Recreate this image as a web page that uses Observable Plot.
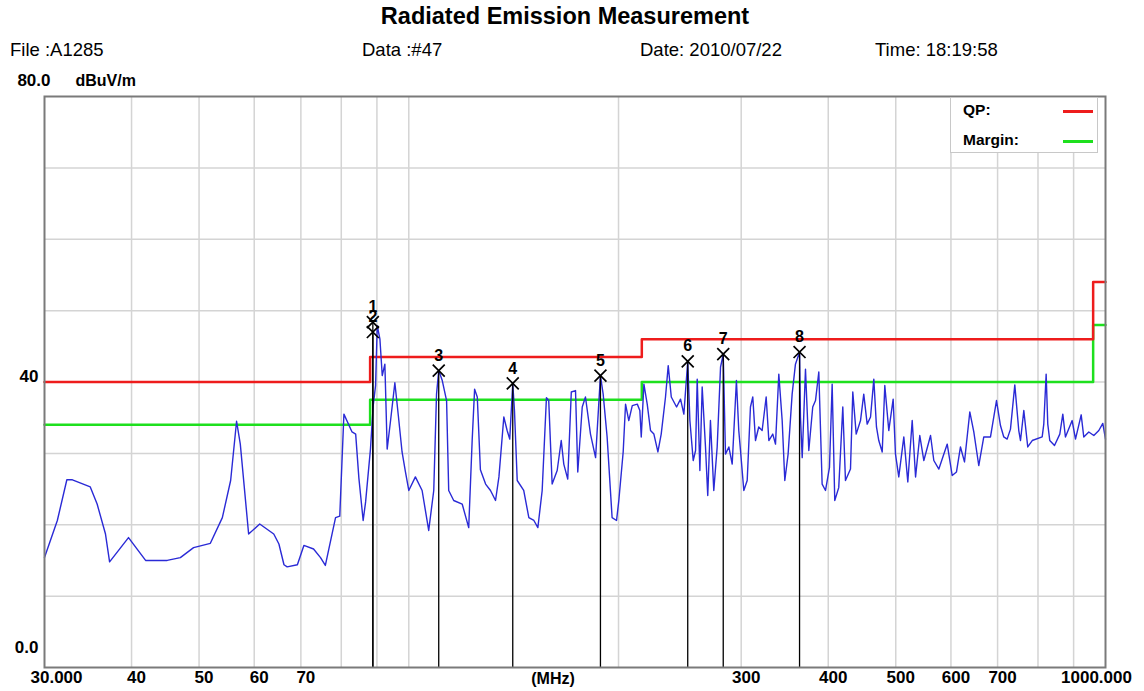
<!DOCTYPE html>
<html><head><meta charset="utf-8">
<script src="https://cdn.jsdelivr.net/npm/d3@7"></script>
<script src="https://cdn.jsdelivr.net/npm/@observablehq/plot@0.6"></script>
<style>
body{margin:0;background:#fff;font-family:"Liberation Sans",Arial,sans-serif;}
#wrap{position:relative;width:1144px;height:691px;overflow:hidden;}
#chart{position:absolute;left:0;top:0;}
.t{position:absolute;white-space:nowrap;color:#000;z-index:2;}
.h{font-size:18.5px;top:39px;}
#legend{position:absolute;left:950px;top:97px;width:146px;height:54px;background:#fff;border:1px solid #c8c8c8;z-index:2;font-weight:bold;font-size:15.5px;}
#legend .row{position:absolute;left:12px;}
#legend .sw{position:absolute;left:112px;width:30px;height:3px;}
</style></head>
<body><div id="wrap">
<div class="t" style="left:0;width:1130px;text-align:center;top:3px;font-weight:bold;font-size:23.5px">Radiated Emission Measurement</div>
<div class="t h" style="left:10px">File :A1285</div>
<div class="t h" style="left:362px">Data :#47</div>
<div class="t h" style="left:640px">Date: 2010/07/22</div>
<div class="t h" style="left:875px">Time: 18:19:58</div>
<div id="legend">
  <div class="row" style="top:3px">QP:</div><div class="sw" style="top:12px;background:#ee1c1c"></div>
  <div class="row" style="top:33px">Margin:</div><div class="sw" style="top:42px;background:#1ee01e"></div>
</div>
<div id="chart"></div>
</div>
<script>
// Measured trace (MHz, dBuV/m)
const traceFreq = [30.0,31.3,32.3,32.9,34.9,35.7,36.7,37.2,39.6,41.9,45.0,47.0,49.1,51.9,54.0,55.5,56.6,57.3,58.9,61.1,64.0,65.1,66.2,66.9,69.2,70.7,73.0,74.7,75.9,78.5,79.6,80.7,82.9,83.9,84.8,86.0,86.7,88.1,88.9,89.6,90.1,90.9,91.6,92.4,93.1,94.1,95.5,96.6,97.8,98.9,100.0,102.2,104.5,106.8,108.6,109.6,110.4,111.7,113.3,114.1,116.0,119.3,121.9,123.3,124.3,125.4,126.7,128.9,131.0,133.2,134.7,136.9,138.4,139.6,141.0,141.8,143.1,146.2,148.7,151.2,153.2,155.4,157.6,158.8,160.6,163.3,165.5,166.9,169.1,171.1,173.5,174.8,177.4,179.3,182.3,185.4,188.4,190.1,192.6,195.8,198.7,200.2,203.1,204.7,206.9,209.3,212.8,214.6,215.6,217.5,219.9,222.3,224.8,227.8,230.3,233.6,235.7,238.1,242.3,245.5,248.2,251.4,253.2,256.0,258.0,259.4,261.7,263.7,266.6,268.6,271.0,274.0,277.1,280.2,282.7,284.8,288.0,291.2,295.3,297.6,299.3,302.6,306.0,309.3,311.7,314.5,317.9,321.5,325.8,328.7,333.0,336.0,339.7,343.5,346.5,350.3,355.0,358.9,363.8,364.9,367.0,371.0,375.1,380.0,383.5,387.7,392.0,396.4,401.6,405.2,408.7,414.1,419.7,423.4,430.5,433.8,438.7,445.0,449.8,454.9,460.0,465.0,469.1,472.7,478.1,482.2,488.6,495.7,499.5,505.0,513.5,520.3,527.9,533.8,541.3,548.6,560.9,567.0,576.5,592.7,602.5,611.1,619.2,627.5,638.6,647.1,657.8,668.8,683.8,697.5,706.7,714.5,722.5,730.5,741.0,750.8,755.1,763.4,773.4,784.9,811.2,815.5,821.9,826.3,831.8,844.9,859.8,868.4,876.0,895.6,905.6,922.8,930.7,946.3,962.1,978.2,991.1,1000];
const traceLevel = [15.4,20.6,26.3,26.3,25.3,22.9,18.7,14.8,18.2,15.0,15.0,15.4,16.8,17.4,21.0,26.2,34.5,31.3,18.7,20.1,18.7,17.3,14.4,14.1,14.4,17.1,16.6,15.4,14.3,21.0,21.2,35.5,33.0,32.7,26.5,20.6,23.2,30.6,36.7,39.5,47.9,46.0,40.9,42.5,30.6,34.4,39.9,35.3,30.2,27.4,24.8,26.7,24.8,19.2,24.8,38.3,41.6,40.2,37.4,24.8,23.4,22.9,19.6,31.8,39.0,37.9,27.7,25.7,24.8,23.4,26.7,35.1,33.2,32.0,39.8,36.0,26.2,24.8,21.0,20.6,19.6,24.8,37.8,37.4,25.7,27.6,31.8,28.5,26.4,38.6,38.8,27.4,36.5,37.9,32.7,29.4,40.9,38.3,32.3,21.0,20.6,23.4,30.2,36.9,34.6,36.7,36.9,36.0,32.3,39.7,36.9,33.2,32.7,30.2,32.7,37.9,42.3,37.9,36.5,37.6,35.5,42.9,34.6,29.0,30.4,40.4,27.6,39.3,30.9,24.1,34.6,24.8,30.9,42.1,43.9,29.9,30.9,28.5,40.2,33.2,30.4,24.8,26.2,36.5,37.9,31.8,33.7,33.2,37.9,31.8,32.7,31.3,41.1,34.6,26.2,29.9,38.3,42.5,44.2,35.1,29.4,41.8,30.4,36.5,37.4,41.4,25.7,24.8,28.0,39.7,23.4,25.2,36.5,26.2,27.8,38.6,32.7,34.6,38.3,34.1,35.1,40.4,33.7,31.8,30.2,39.5,33.2,37.6,29.9,26.7,32.3,26.0,34.6,26.7,32.5,29.0,32.5,29.0,27.8,31.3,26.9,27.4,30.9,28.8,35.8,33.0,28.3,32.3,32.3,37.4,33.9,32.3,32.0,33.4,39.6,33.2,31.8,36.0,30.9,31.8,32.3,34.1,41.1,34.1,31.8,31.1,32.7,35.5,32.3,34.6,32.0,35.4,32.3,33.0,32.5,33.2,34.2,32.0];

// Limit lines (step breakpoints)
const limitFreq   = [30, 88, 216, 960, 1000];
const qpLevel     = [40, 43.5, 46, 54, 54];
const marginLevel = [34, 37.5, 40, 48, 48];

// Peak markers
const markerNo    = ["1","2","3","4","5","6","7","8"];
const markerFreq  = [88.8, 88.8, 110.4, 141.0, 188.4, 251.4, 282.7, 363.8];
const markerLevel = [48.4, 47.0, 41.6, 39.8, 40.9, 42.9, 43.9, 44.2];

// Axes / grid
const gridFreq  = [40,50,60,70,80,90,100,200,300,400,500,600,700,800,900];
const gridLevel = [10,20,30,40,50,60,70];
const xTickMid  = [40,50,60,70,300,400,500,600,700];

const trace = traceFreq.map((f,i)=>({f, v: traceLevel[i]}));
const qp = limitFreq.map((f,i)=>({f, v: qpLevel[i]}));
const mg = limitFreq.map((f,i)=>({f, v: marginLevel[i]}));
const markers = markerNo.map((n,i)=>({n, f: markerFreq[i], v: markerLevel[i]}));

const chart = Plot.plot({
  width: 1144, height: 691,
  marginLeft: 44, marginRight: 39, marginTop: 96, marginBottom: 24,
  style: {fontFamily: "'Liberation Sans', Arial, sans-serif", fontSize: "17px", fontWeight: "bold", background: "transparent", overflow: "visible"},
  x: {type: "log", domain: [30, 1000], label: null},
  y: {domain: [0, 80], label: null},
  marks: [
    Plot.gridX(gridFreq, {stroke: "#d4d4d4", strokeOpacity: 1, strokeWidth: 1.5}),
    Plot.gridY(gridLevel, {stroke: "#d4d4d4", strokeOpacity: 1, strokeWidth: 1.5}),
    Plot.line(mg, {x: "f", y: "v", curve: "step-after", stroke: "#1ee01e", strokeWidth: 2.5}),
    Plot.line(qp, {x: "f", y: "v", curve: "step-after", stroke: "#ee1c1c", strokeWidth: 2.5}),
    Plot.line(trace, {x: "f", y: "v", stroke: "#2a2ad6", strokeWidth: 1.4}),
    Plot.ruleX(markers, {x: "f", y1: 0, y2: "v", stroke: "#000", strokeWidth: 1.3}),
    Plot.dot(markers, {x: "f", y: "v", symbol: "times", r: 5.5, stroke: "#000", strokeWidth: 1.7}),
    Plot.text(markers, {x: "f", y: "v", text: "n", dy: -15, fontSize: 16}),
    Plot.frame({stroke: "#7a7a7a", strokeWidth: 2}),
    Plot.axisX([30], {tickSize: 0, tickPadding: 3, tickFormat: () => "30.000", dx: 12}),
    Plot.axisX(xTickMid, {tickSize: 0, tickPadding: 3, tickFormat: d => String(d), dx: 5}),
    Plot.axisX([1000], {tickSize: 0, tickPadding: 3, tickFormat: () => "1000.000", dx: -9}),
    Plot.text(["(MHz)"], {frameAnchor: "bottom", lineAnchor: "middle", dy: 11, dx: -22, fontSize: 16}),
    Plot.axisY([0], {tickSize: 0, tickPadding: 3, tickFormat: () => "0.0", dy: -20, dx: -3}),
    Plot.axisY([40], {tickSize: 0, tickPadding: 3, tickFormat: () => "40", dy: -5, dx: -3}),
    Plot.axisY([80], {tickSize: 0, tickPadding: 3, tickFormat: () => "80.0", dy: -16, dx: 9}),
    Plot.text(["dBuV/m"], {frameAnchor: "top-left", lineAnchor: "middle", dx: 31, dy: -16, textAnchor: "start", fontSize: 16})
  ]
});
document.getElementById("chart").appendChild(chart);
</script>
</body></html>
